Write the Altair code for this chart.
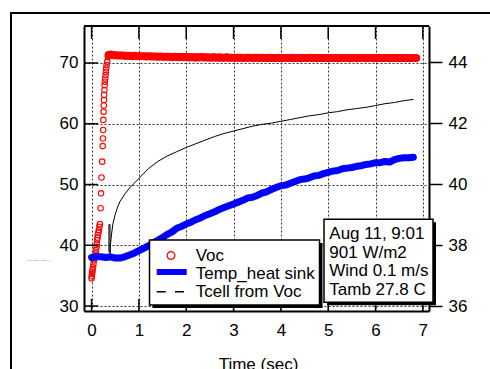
import altair as alt
import pandas as pd

FONT = "Liberation Sans"

# ---------------- data ----------------
# Voc (right axis, V): rising part (t, V) then plateau sampled every 0.05 s from 0.40 s
voc_rise_t = [0.000, 0.005, 0.010, 0.015, 0.020, 0.030, 0.040, 0.050, 0.060, 0.070,
              0.085, 0.095, 0.106, 0.112, 0.118, 0.126, 0.133, 0.143, 0.154, 0.165,
              0.175, 0.190, 0.200, 0.210, 0.224, 0.235, 0.240, 0.245, 0.248, 0.254,
              0.258, 0.262, 0.266, 0.272, 0.276, 0.281, 0.288, 0.296, 0.302, 0.309,
              0.317, 0.330, 0.345]
voc_rise_v = [36.91, 36.98, 37.05, 37.12, 37.18, 37.27, 37.38, 37.50, 37.58, 37.64,
              37.73, 37.84, 37.95, 38.05, 38.17, 38.25, 38.33, 38.41, 38.49, 38.60,
              38.69, 39.21, 39.70, 40.22, 40.74, 41.25, 41.50, 41.78, 42.11, 42.38,
              42.58, 42.76, 42.93, 43.09, 43.25, 43.36, 43.47, 43.58, 43.69, 43.80,
              43.91, 44.02, 44.17]
voc_plateau_v = [
    44.24, 44.25, 44.23, 44.23, 44.22, 44.22, 44.22, 44.21, 44.21, 44.21, 44.20, 44.21, 44.20, 44.20, 44.20,
    44.20, 44.19, 44.20, 44.19, 44.19, 44.19, 44.18, 44.19, 44.18, 44.18, 44.18, 44.18, 44.17, 44.18, 44.17, 44.17, 44.17, 44.17, 44.17, 44.16,
    44.17, 44.16, 44.16, 44.16, 44.17, 44.16, 44.16, 44.16, 44.15, 44.16, 44.16, 44.15, 44.16, 44.15, 44.15, 44.16, 44.15, 44.15, 44.15, 44.15,
    44.15, 44.15, 44.14, 44.15, 44.15, 44.15, 44.14, 44.15, 44.15, 44.14, 44.15, 44.14, 44.14, 44.15, 44.14, 44.14, 44.14, 44.15, 44.14, 44.14,
    44.14, 44.14, 44.15, 44.14, 44.14, 44.14, 44.13, 44.14, 44.14, 44.14, 44.15, 44.14, 44.14, 44.13, 44.14, 44.14, 44.14, 44.14, 44.13, 44.14,
    44.14, 44.14, 44.13, 44.14, 44.14, 44.14, 44.14, 44.13, 44.14, 44.14, 44.13, 44.14, 44.14, 44.14, 44.13, 44.14, 44.14, 44.13, 44.14, 44.14,
    44.14, 44.13, 44.14, 44.14, 44.13, 44.14, 44.14, 44.14, 44.13, 44.14, 44.14, 44.14, 44.13, 44.14, 44.14, 44.14]
voc_plateau_t = [round(0.36 + 0.05 * i, 2) for i in range(len(voc_plateau_v))]

# Temp_heat sink (left axis, C), every 0.1 s
sink_t = [round(0.1 * i, 1) for i in range(69)]
sink_c = [38.0, 38.1, 38.1, 38.0, 38.1, 37.9, 37.9, 38.1, 38.4, 38.7,
          39.1, 39.5, 39.9, 40.4, 40.8, 41.3, 41.8, 42.2, 42.8, 43.1,
          43.5, 43.8, 44.2, 44.5, 44.9, 45.2, 45.5, 45.9, 46.2, 46.5,
          46.8, 47.1, 47.4, 47.8, 47.9, 48.2, 48.6, 48.8, 49.2, 49.5,
          49.8, 49.9, 50.2, 50.5, 50.8, 50.9, 51.1, 51.4, 51.5, 51.8,
          52.0, 52.2, 52.3, 52.6, 52.7, 52.8, 53.0, 53.1, 53.3, 53.4,
          53.6, 53.6, 53.8, 53.7, 54.1, 54.3, 54.4, 54.4, 54.5]

# Tcell from Voc (left axis, C)
tcell_t = [0.367, 0.367, 0.390, 0.390, 0.400, 0.420, 0.450, 0.500, 0.550, 0.600,
           0.700, 0.800, 0.900, 1.000, 1.200, 1.400, 1.600, 1.800, 2.000, 2.200,
           2.400, 2.600, 2.800, 3.000, 3.200, 3.400, 3.600, 3.800, 4.000, 4.200,
           4.400, 4.600, 4.800, 5.000, 5.200, 5.400, 5.600, 5.800, 6.000, 6.200,
           6.400, 6.600, 6.800]
tcell_c = [38.9, 43.4, 43.4, 38.65, 40.2, 41.7, 43.5, 45.1, 46.3, 47.2,
           48.4, 49.4, 50.2, 51.0, 52.6, 53.8, 54.7, 55.4, 56.1, 56.7,
           57.3, 57.9, 58.4, 58.8, 59.2, 59.6, 59.9, 60.1, 60.4, 60.7,
           61.0, 61.3, 61.5, 61.8, 62.0, 62.3, 62.5, 62.7, 63.0, 63.3,
           63.5, 63.8, 64.0]

x_ticks = [0, 1, 2, 3, 4, 5, 6, 7]
left_ticks = [30, 40, 50, 60, 70]
right_ticks = [36, 38, 40, 42, 44]
legend_labels = ["Voc", "Temp_heat sink", "Tcell from Voc"]
info_lines = ["Aug 11, 9:01", "901 W/m2", "Wind 0.1 m/s", "Tamb 27.8 C"]
x_title = "Time (sec)"
tiny_label = "Open circuit voltage (V)"

# ---------------- frames ----------------
rise_df = pd.DataFrame({"t": voc_rise_t, "v": voc_rise_v})
plat_df = pd.DataFrame({"t": voc_plateau_t, "v": voc_plateau_v})
sink_df = pd.DataFrame({"t": sink_t, "c": sink_c})
tcell_df = pd.DataFrame({"t": tcell_t, "c": tcell_c, "i": list(range(len(tcell_t)))})
xt_df = pd.DataFrame({"t": x_ticks})
lt_df = pd.DataFrame({"c": left_ticks})
one = pd.DataFrame({"k": [0]})

W, H = 345, 285

xs = alt.Scale(domain=[-0.16, 7.13], nice=False, zero=False)
yl = alt.Scale(domain=[29.18, 76.09], nice=False, zero=False)
yr = alt.Scale(domain=[35.84, 45.19], nice=False, zero=False)

x_axis = alt.Axis(orient="bottom", values=x_ticks, grid=True, gridDash=[2, 2], gridColor="#333",
                  gridWidth=1, ticks=False, tickSize=0, domainWidth=2, domainColor="black",
                  labelFont=FONT, labelFontSize=17, labelColor="black", labelPadding=11,
                  title=x_title, titleFont=FONT, titleFontSize=17, titleFontWeight="normal",
                  titleColor="black", titleX=174, titleY=58, titleBaseline="alphabetic",
                  titleAlign="center")
left_axis = alt.Axis(orient="left", values=left_ticks, grid=True, gridDash=[2, 2], gridColor="#333",
                     gridWidth=1, ticks=False, tickSize=0, domainWidth=2, domainColor="black",
                     labelFont=FONT, labelFontSize=17, labelColor="black", labelPadding=6,
                     title=None)
right_axis = alt.Axis(orient="right", values=right_ticks, grid=False, ticks=True, tickSize=13,
                      tickWidth=1.5, tickColor="black", domainWidth=2, domainColor="black",
                      labelFont=FONT, labelFontSize=17, labelColor="black", labelPadding=6,
                      title=None)

X = lambda: alt.X("t:Q", scale=xs, axis=x_axis)
YL = lambda f: alt.Y(f, scale=yl, axis=left_axis)
YR = lambda: alt.Y("v:Q", scale=yr, axis=right_axis)

red_rise = alt.Chart(rise_df).mark_point(shape="circle", filled=False, color="#ff0000", size=30,
                                         strokeWidth=1.1, opacity=1).encode(x=X(), y=YR())
red_plat = alt.Chart(plat_df).mark_point(shape="circle", filled=False, color="#ff0000", size=30,
                                         strokeWidth=2.6, opacity=1).encode(x=X(), y=YR())
right_layer = alt.layer(red_rise, red_plat)

black = alt.Chart(tcell_df).mark_line(color="black", strokeWidth=1).encode(
    x=X(), y=YL("c:Q"), order="i:Q")
blue = alt.Chart(sink_df).mark_line(color="#0000ff", strokeWidth=7, strokeCap="round",
                                    strokeJoin="round").encode(x=X(), y=YL("c:Q"))

top_ticks = alt.Chart(xt_df).mark_rule(color="black", strokeWidth=1.5).encode(
    x=X(), y=alt.value(0), y2=alt.value(13))
bot_ticks = alt.Chart(xt_df).mark_rule(color="black", strokeWidth=1.5).encode(
    x=X(), y=alt.value(H - 12), y2=alt.value(H))
left_in_ticks = alt.Chart(lt_df).mark_rule(color="black", strokeWidth=1.5).encode(
    y=YL("c:Q"), x=alt.value(0), x2=alt.value(14))
top_line = alt.Chart(one).mark_rule(color="black", strokeWidth=2).encode(
    x=alt.value(0), x2=alt.value(W), y=alt.value(0))

frame = alt.Chart(one).mark_rect(fillOpacity=0, stroke="black", strokeWidth=2).encode(
    x=alt.value(-73), x2=alt.value(440), y=alt.value(-13), y2=alt.value(380))

leg_shadow = alt.Chart(one).mark_rect(color="black").encode(
    x=alt.value(68.5), x2=alt.value(238.5), y=alt.value(217), y2=alt.value(282))
leg_box = alt.Chart(one).mark_rect(fill="white", stroke="black", strokeWidth=1.5).encode(
    x=alt.value(65.5), x2=alt.value(235.5), y=alt.value(214), y2=alt.value(279))
leg_circle = alt.Chart(one).mark_point(shape="circle", filled=False, color="#ff0000", size=60,
                                        strokeWidth=1.2, opacity=1).encode(
    x=alt.value(87), y=alt.value(229.5))
leg_blue = alt.Chart(one).mark_rule(color="#0000ff", strokeWidth=6).encode(
    x=alt.value(72.7), x2=alt.value(102.7), y=alt.value(246))
leg_dash = alt.Chart(one).mark_rule(color="black", strokeWidth=1.5, strokeDash=[9, 9.3]).encode(
    x=alt.value(72.7), x2=alt.value(101), y=alt.value(265.7))
leg_text = alt.Chart(one).mark_text(align="left", baseline="alphabetic", font=FONT, fontSize=17,
                                     lineHeight=18, color="black").encode(
    x=alt.value(111.7), y=alt.value(235), text=alt.value(legend_labels))

info_shadow = alt.Chart(one).mark_rect(color="black").encode(
    x=alt.value(243), x2=alt.value(352), y=alt.value(196.3), y2=alt.value(279.3))
info_box = alt.Chart(one).mark_rect(fill="white", stroke="black", strokeWidth=1.5).encode(
    x=alt.value(240), x2=alt.value(349), y=alt.value(193.3), y2=alt.value(276.3))
info_text = alt.Chart(one).mark_text(align="left", baseline="alphabetic", font=FONT, fontSize=17,
                                      lineHeight=18.5, color="black").encode(
    x=alt.value(245.3), y=alt.value(213.3), text=alt.value(info_lines))

tiny = alt.Chart(one).mark_text(align="left", baseline="middle", font=FONT, fontSize=2.3,
                                 color="#888").encode(
    x=alt.value(-57), y=alt.value(234), text=alt.value(tiny_label))

left_layer = alt.layer(black, blue, top_ticks, bot_ticks, left_in_ticks, top_line, frame,
                       leg_shadow, leg_box, leg_circle, leg_blue, leg_dash, leg_text,
                       info_shadow, info_box, info_text, tiny)

chart = alt.layer(right_layer, left_layer).resolve_scale(y="independent").properties(
    width=W, height=H, autosize="none",
    padding={"left": 84, "top": 26, "right": 61, "bottom": 58},
).configure_view(stroke=None).configure(font=FONT)

chart.save("out.html", embed_options={"renderer": "svg", "actions": False})
